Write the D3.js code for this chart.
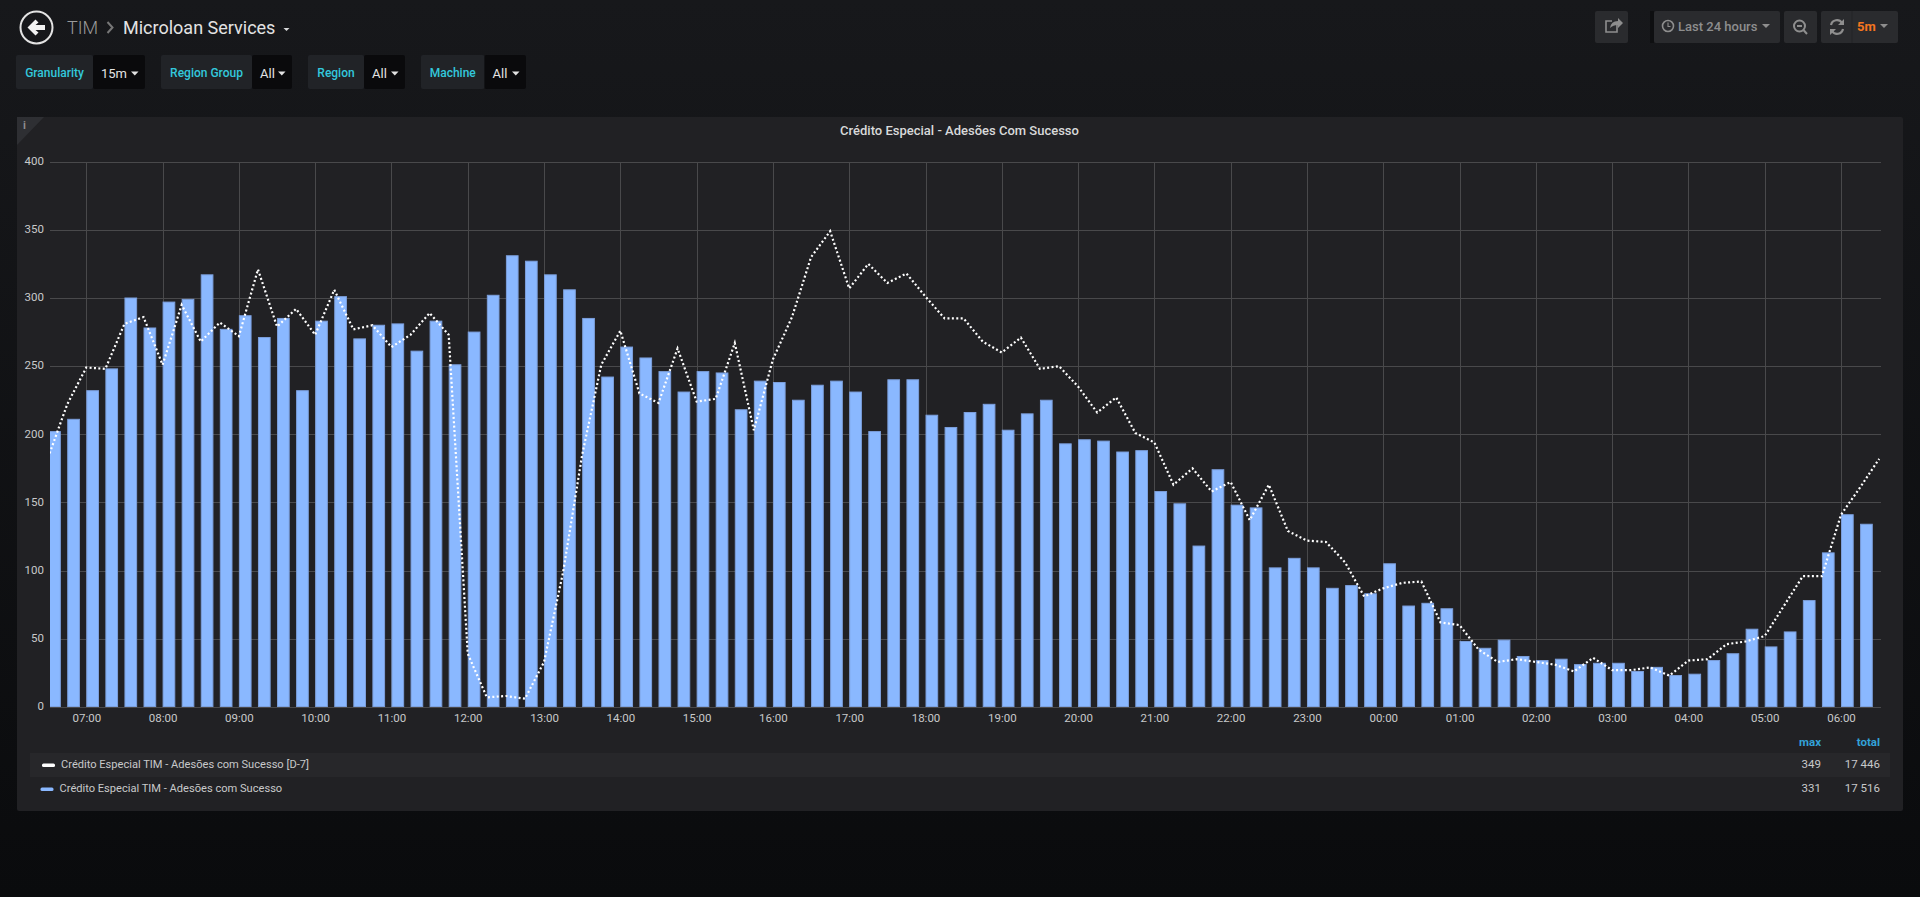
<!DOCTYPE html>
<html lang="pt">
<head>
<meta charset="utf-8">
<title>Crédito Especial - Adesões Com Sucesso</title>
<script src="https://cdn.jsdelivr.net/npm/d3@7/dist/d3.min.js"></script>
<style>
html,body{margin:0;padding:0;width:1920px;height:897px;overflow:hidden;background:#0b0c0e;}
svg{display:block;font-family:Roboto,"Liberation Sans",sans-serif;}
text{font-family:Roboto,"Liberation Sans",sans-serif;}
</style>
</head>
<body>
<svg id="c" width="1920" height="897"></svg>
<script>
// ---------- data ----------
const startHour = 6, startMinute = 30, stepMinutes = 15;
const currentValues = [202,211,232,248,300,278,297,299,317,277,287,271,285,232,283,301,270,280,281,261,283,251,275,302,331,327,317,306,285,242,264,256,246,231,246,245,218,239,238,225,236,239,231,202,240,240,214,205,216,222,203,215,225,193,196,195,187,188,158,149,118,174,148,146,102,109,102,87,89,83,105,74,76,72,48,43,49,37,34,35,31,32,32,26,29,23,24,34,39,57,44,55,78,113,141,134];
const previousWeekValues = [183,222,249,248,281,286,251,295,268,282,272,321,279,292,273,306,277,280,264,273,289,273,39,7,8,6,33,99,185,251,276,230,223,263,224,226,267,203,255,286,330,349,307,325,311,318,301,285,285,268,260,271,248,250,235,216,227,201,194,163,175,158,165,137,163,129,122,121,106,81,87,91,92,62,60,42,33,35,33,31,26,36,27,27,29,23,34,35,46,48,52,74,96,96,141,161,182];
const yTicks = [0,50,100,150,200,250,300,350,400];
const chartTitle = "Crédito Especial - Adesões Com Sucesso";
const legendNames = ["Crédito Especial TIM - Adesões com Sucesso [D-7]","Crédito Especial TIM - Adesões com Sucesso"];
const legendMax = ["349","331"];
const legendTotal = ["17 446","17 516"];
const legendHeaders = ["max","total"];
const variableLabels = ["Granularity","Region Group","Region","Machine"];
const variableValues = ["15m","All","All","All"];

// ---------- page ----------
const svg = d3.select("#c");
const defs = svg.append("defs");
const grad = defs.append("linearGradient").attr("id","bg").attr("x1",0).attr("x2",0).attr("y1",0).attr("y2",1);
grad.append("stop").attr("offset","0%").attr("stop-color","#17181b");
grad.append("stop").attr("offset","100%").attr("stop-color","#0a0b0d");
svg.append("rect").attr("width",1920).attr("height",897).attr("fill","url(#bg)");

// header
const head = svg.append("g");
head.append("circle").attr("cx",36.5).attr("cy",27.5).attr("r",16).attr("fill","none").attr("stroke","#e3e3e3").attr("stroke-width",2);
head.append("path").attr("d","M27.5 27.5 L35.5 19.5 L38.5 22.5 L35.5 25 L45 25 L45 30 L35.5 30 L38.5 32.5 L35.5 35.5 Z").attr("fill","#f2f2f2");
head.append("text").attr("x",67).attr("y",33.5).attr("font-size",18).attr("font-weight",300).attr("fill","#9a9a9a").text("TIM");
head.append("path").attr("d","M107.5 22 L112.5 27.5 L107.5 33").attr("fill","none").attr("stroke","#777").attr("stroke-width",2);
head.append("text").attr("x",123).attr("y",33.5).attr("font-size",18).attr("font-weight",400).attr("fill","#e3e3e3").text("Microloan Services");
head.append("path").attr("d","M283.5 28 L289.5 28 L286.5 31 Z").attr("fill","#d8d9da");

// template variables
const boxes = [[16,93,145],[161,252,292],[308,364,405],[421,484.5,526]];
boxes.forEach((b,i)=>{
  const g = svg.append("g");
  g.append("rect").attr("x",b[0]).attr("y",55).attr("width",b[1]-b[0]).attr("height",34).attr("rx",2).attr("fill","#212327");
  g.append("rect").attr("x",b[1]).attr("y",55).attr("width",b[2]-b[1]).attr("height",34).attr("rx",2).attr("fill","#0a0a0c");
  g.append("text").attr("x",(b[0]+b[1])/2).attr("y",76.5).attr("text-anchor","middle").attr("font-size",12).attr("font-weight",500).attr("fill","#33c8dc").text(variableLabels[i]);
  g.append("text").attr("x",b[1]+8).attr("y",78).attr("font-size",13).attr("fill","#e3e3e3").text(variableValues[i]);
  g.append("path").attr("d",`M${b[2]-14} 71.5 h7.5 l-3.75 4 Z`).attr("fill","#e3e3e3");
});

// toolbar
const tb = svg.append("g");
[[1595,1628],[1654,1780],[1784,1817],[1821,1898]].forEach(r=>{
  tb.append("rect").attr("x",r[0]).attr("y",11).attr("width",r[1]-r[0]).attr("height",32).attr("rx",2).attr("fill","#2a2b2e");
});
tb.append("rect").attr("x",1650).attr("y",11).attr("width",4).attr("height",32).attr("fill","#0e0f11");
tb.append("line").attr("x1",1852).attr("x2",1852).attr("y1",11).attr("y2",43).attr("stroke","#232427");
// share icon
tb.append("path").attr("d","M1617 24 v8 h-11 v-11 h6").attr("fill","none").attr("stroke","#8e8e8e").attr("stroke-width",1.6);
tb.append("path").attr("d","M1610 28 q1 -7 8 -7 v-3 l5 5 l-5 5 v-3 q-5 0 -8 3 Z").attr("fill","#8e8e8e");
// clock
tb.append("circle").attr("cx",1668).attr("cy",26).attr("r",5.5).attr("fill","none").attr("stroke","#8e8e8e").attr("stroke-width",1.6);
tb.append("path").attr("d","M1668 22.5 v4 h2.5").attr("fill","none").attr("stroke","#8e8e8e").attr("stroke-width",1.1);
tb.append("text").attr("x",1678).attr("y",31).attr("font-size",13).attr("font-weight",500).attr("fill","#8e8e8e").text("Last 24 hours");
tb.append("path").attr("d","M1762 24 h8 l-4 4 Z").attr("fill","#8e8e8e");
// zoom icon
tb.append("circle").attr("cx",1799.5).attr("cy",26).attr("r",5.5).attr("fill","none").attr("stroke","#8e8e8e").attr("stroke-width",2);
tb.append("path").attr("d","M1797 26 h5 M1803.5 30 L1807 34").attr("fill","none").attr("stroke","#8e8e8e").attr("stroke-width",2);
// refresh icon
tb.append("path").attr("d","M1831 25 a6 6 0 0 1 11 -2 M1843 29 a6 6 0 0 1 -11 2").attr("fill","none").attr("stroke","#8e8e8e").attr("stroke-width",2.2);
tb.append("path").attr("d","M1844 19 v6 h-6 Z M1830 35 v-6 h6 Z").attr("fill","#8e8e8e");
tb.append("text").attr("x",1857).attr("y",31).attr("font-size",13).attr("font-weight",700).attr("fill","#f5761f").text("5m");
tb.append("path").attr("d","M1880 24 h8 l-4 4 Z").attr("fill","#8e8e8e");

// panel
const panel = svg.append("g");
panel.append("rect").attr("x",17).attr("y",117).attr("width",1886).attr("height",694).attr("rx",2).attr("fill","#212124");
panel.append("path").attr("d","M17 117 H44 L17 145 Z").attr("fill","#2e2f33");
panel.append("text").attr("x",24.5).attr("y",129).attr("text-anchor","middle").attr("font-size",11).attr("font-family","'DejaVu Serif',serif").attr("font-weight",700).attr("fill","#8e8e8e").text("i");
panel.append("text").attr("x",959.5).attr("y",134.5).attr("text-anchor","middle").attr("font-size",13).attr("font-weight",500).attr("fill","#d8d9da").text(chartTitle);

// ---------- chart ----------
const plot = {left:50,right:1881,top:161.7,bottom:706.9};
const timeAt = i => new Date(2019,0,15,startHour,startMinute+i*stepMinutes);
const x = d3.scaleTime()
  .domain([new Date(2019,0,15,6,31,27), new Date(2019,0,16,6,31,27)])
  .range([plot.left,plot.right]);
const y = d3.scaleLinear().domain([0,400]).range([plot.bottom,plot.top]);

defs.append("clipPath").attr("id","plotClip").append("rect")
  .attr("x",plot.left).attr("y",plot.top-6).attr("width",plot.right-plot.left).attr("height",plot.bottom-plot.top+6);

const yAxis = d3.axisLeft(y).tickValues(yTicks).tickSize(-(plot.right-plot.left)).tickPadding(6).tickFormat(d3.format("d"));
const xAxis = d3.axisBottom(x).ticks(d3.timeHour.every(1)).tickSize(-(plot.bottom-plot.top)).tickPadding(7).tickFormat(d3.timeFormat("%H:%M"));

const styleAxis = g => {
  g.select(".domain").remove();
  g.selectAll("line").attr("stroke","#49494b").attr("stroke-width",1).attr("shape-rendering","crispEdges");
  g.selectAll("text").attr("fill","#c8c9ca").attr("font-size",11.5);
};
svg.append("g").attr("transform",`translate(${plot.left},0)`).call(yAxis).call(styleAxis)
  .selectAll("text").attr("dy","0.24em");
svg.append("g").attr("transform",`translate(0,${plot.bottom})`).call(xAxis).call(styleAxis);

const marks = svg.append("g").attr("clip-path","url(#plotClip)");
const barWidth = x(timeAt(2).getTime()+ (stepMinutes*0.665)*60000) - x(timeAt(2));
marks.selectAll("rect.bar").data(currentValues).join("rect")
  .attr("class","bar")
  .attr("x",(d,i)=>x(timeAt(i))+0.5)
  .attr("y",d=>y(d))
  .attr("width",barWidth-1)
  .attr("height",d=>y(0)-y(d))
  .attr("fill","#8ab8ff")
  .attr("stroke","#7c9fdc")
  .attr("stroke-width",1);

const line = d3.line().x((d,i)=>x(timeAt(i))).y(d=>y(d));
marks.append("path").datum(previousWeekValues)
  .attr("d",line)
  .attr("fill","none")
  .attr("stroke","#ffffff")
  .attr("stroke-width",2.2)
  .attr("stroke-dasharray","2 2.4");

// ---------- legend ----------
const leg = svg.append("g");
const headerRight = [1821,1880];
legendHeaders.forEach((h,i)=>{
  leg.append("text").attr("x",headerRight[i]).attr("y",746).attr("text-anchor","end").attr("font-size",11.5).attr("font-weight",700).attr("fill","#33a2d8").text(h);
});
leg.append("rect").attr("x",30).attr("y",753).attr("width",1860).attr("height",24).attr("fill","#27272a");
const legColors = ["#ffffff","#8ab8ff"];
const legX = [42,40.5];
legendNames.forEach((n,i)=>{
  const cy = 764+i*24;
  leg.append("rect").attr("x",legX[i]).attr("y",cy-0.5).attr("width",13).attr("height",3.5).attr("rx",1.5).attr("fill",legColors[i]);
  leg.append("text").attr("x",legX[i]+19).attr("y",cy+4).attr("font-size",11.1).attr("fill","#c8c9ca").text(n);
  leg.append("text").attr("x",headerRight[0]).attr("y",cy+4).attr("text-anchor","end").attr("font-size",11.5).attr("fill","#c8c9ca").text(legendMax[i]);
  leg.append("text").attr("x",headerRight[1]).attr("y",cy+4).attr("text-anchor","end").attr("font-size",11.5).attr("fill","#c8c9ca").text(legendTotal[i]);
});
</script>
</body>
</html>
